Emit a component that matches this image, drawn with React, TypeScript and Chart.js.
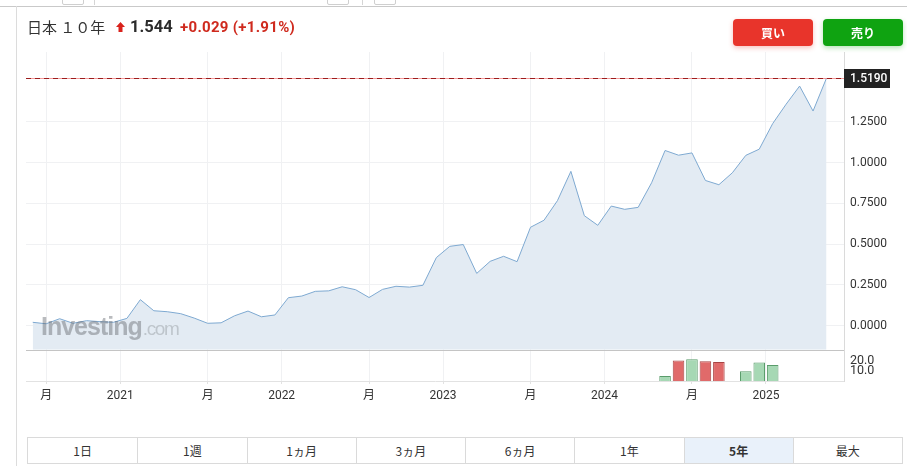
import React, { useEffect, useRef } from "react";
import { Chart, registerables } from "chart.js";

Chart.register(...registerables);

// ---- data ----
const months = [
  "2020-06", "2020-07", "2020-08", "2020-09", "2020-10", "2020-11", "2020-12",
  "2021-01", "2021-02", "2021-03", "2021-04", "2021-05", "2021-06", "2021-07",
  "2021-08", "2021-09", "2021-10", "2021-11", "2021-12", "2022-01", "2022-02",
  "2022-03", "2022-04", "2022-05", "2022-06", "2022-07", "2022-08", "2022-09",
  "2022-10", "2022-11", "2022-12", "2023-01", "2023-02", "2023-03", "2023-04",
  "2023-05", "2023-06", "2023-07", "2023-08", "2023-09", "2023-10", "2023-11",
  "2023-12", "2024-01", "2024-02", "2024-03", "2024-04", "2024-05", "2024-06",
  "2024-07", "2024-08", "2024-09", "2024-10", "2024-11", "2024-12", "2025-01",
  "2025-02", "2025-03", "2025-04", "2025-05",
];

const yields = [
  0.021, 0.012, 0.043, 0.015, 0.031, 0.025, 0.021, 0.045, 0.16, 0.092,
  0.086, 0.074, 0.047, 0.015, 0.018, 0.061, 0.09, 0.055, 0.066, 0.172,
  0.182, 0.211, 0.214, 0.239, 0.221, 0.173, 0.223, 0.242, 0.237, 0.248,
  0.418, 0.487, 0.498, 0.321, 0.395, 0.426, 0.393, 0.604, 0.647, 0.767,
  0.947, 0.675, 0.616, 0.734, 0.714, 0.726, 0.877, 1.075, 1.046, 1.06,
  0.891, 0.865, 0.938, 1.045, 1.083, 1.24, 1.359, 1.47, 1.317, 1.519,
];

const volume: (number | null)[] = [
  null, null, null, null, null, null, null, null, null, null,
  null, null, null, null, null, null, null, null, null, null,
  null, null, null, null, null, null, null, null, null, null,
  null, null, null, null, null, null, null, null, null, null,
  null, null, null, null, null, null, null, 5, 20.7, 22,
  20, 19, null, 9.7, 18.7, 16, null, null, null, null,
];

const xTickIndex = [1, 6.5, 13, 18.5, 25, 30.5, 37, 42.5, 49, 54.5];
const xTickLabels = ["月", "2021", "月", "2022", "月", "2023", "月", "2024", "月", "2025"];
const yTicks = [0, 0.25, 0.5, 0.75, 1, 1.25];
const volTicks = [10, 20];
const lastPrice = 1.519;
const rangeButtons = ["1日", "1週", "1ヵ月", "3ヵ月", "6ヵ月", "1年", "5年", "最大"];
const activeRange = "5年";

const FONT = "Roboto, 'Noto Sans CJK JP', sans-serif";

const overlayPlugin = {
  id: "overlay",
  afterDraw(chart: any) {
    const { ctx, chartArea, scales } = chart;
    const y = scales.y;
    ctx.save();
    // separator between price and volume panes
    const sepY = Math.round(y.bottom) + 0.5;
    ctx.strokeStyle = "#c4c4c4";
    ctx.lineWidth = 1;
    ctx.beginPath();
    ctx.moveTo(chartArea.left, sepY);
    ctx.lineTo(chartArea.right, sepY);
    ctx.stroke();
    // last price dashed line
    const py = Math.round(y.getPixelForValue(lastPrice)) + 0.5;
    ctx.strokeStyle = "rgba(240,120,120,0.75)";
    ctx.beginPath();
    ctx.moveTo(chartArea.left, py);
    ctx.lineTo(chartArea.right, py);
    ctx.stroke();
    ctx.setLineDash([5, 4]);
    ctx.strokeStyle = "#9c1d1d";
    ctx.beginPath();
    ctx.moveTo(chartArea.left, py);
    ctx.lineTo(chartArea.right, py);
    ctx.stroke();
    ctx.setLineDash([]);
    // last price label
    ctx.fillStyle = "#222222";
    ctx.fillRect(chartArea.right, py - 9.5, 46, 19);
    ctx.fillStyle = "#ffffff";
    ctx.font = "500 12px " + FONT;
    ctx.textBaseline = "middle";
    ctx.textAlign = "left";
    ctx.fillText(lastPrice.toFixed(4), chartArea.right + 6, py + 0.5);
    ctx.restore();
  },
};

function PriceChart() {
  const ref = useRef<HTMLCanvasElement | null>(null);
  useEffect(() => {
    if (!ref.current) return;
    const linePoints = yields.map((v, i) => ({ x: i, y: v }));
    const barPoints: { x: number; y: number }[] = [];
    const barFill: string[] = [];
    const barBorder: string[] = [];
    volume.forEach((v, i) => {
      if (v === null) return;
      barPoints.push({ x: i, y: v });
      const up = i === 0 || yields[i] >= yields[i - 1];
      barFill.push(up ? "#a6d8b4" : "#e06a6a");
      barBorder.push(up ? "#5a9c6b" : "#a84444");
    });
    const chart = new Chart(ref.current, {
      type: "line",
      data: {
        datasets: [
          {
            type: "line",
            label: "日本 １０年",
            data: linePoints,
            yAxisID: "y",
            borderColor: "#7ea9d1",
            borderWidth: 1,
            backgroundColor: "#e3ebf3",
            fill: "start",
            pointRadius: 0,
            tension: 0,
            order: 1,
          },
          {
            type: "bar",
            label: "volume",
            data: barPoints,
            yAxisID: "yv",
            backgroundColor: barFill,
            borderColor: barBorder,
            borderWidth: 1,
            barPercentage: 0.86,
            categoryPercentage: 1,
            order: 2,
          },
        ] as any,
      },
      options: {
        responsive: false,
        animation: false,
        layout: { padding: { left: 26, top: 52, right: 0, bottom: 9 } },
        plugins: { legend: { display: false }, tooltip: { enabled: false } },
        scales: {
          x: {
            type: "linear",
            offset: false,
            min: -0.5,
            max: 60.3,
            bounds: "data",
            afterBuildTicks: (s: any) => {
              s.ticks = xTickIndex.map((v) => ({ value: v }));
            },
            afterFit: (s: any) => {
              s.height = 30;
            },
            ticks: {
              autoSkip: false,
              maxRotation: 0,
              padding: 5,
              color: "#333333",
              font: { size: 12, family: FONT },
              callback: (_v: any, i: number) => xTickLabels[i],
            },
            grid: { offset: false, color: "#f0f1f3", drawTicks: true, tickLength: 3, tickColor: "#e2e2e2" },
            border: { color: "#e2e2e2" },
          },
          y: {
            type: "linear",
            position: "right",
            stack: "pane",
            stackWeight: 297.7,
            weight: 1,
            min: -0.147,
            max: 1.679,
            bounds: "data",
            afterBuildTicks: (s: any) => {
              s.ticks = yTicks.map((v) => ({ value: v }));
            },
            afterFit: (s: any) => {
              s.width = 63;
            },
            ticks: {
              autoSkip: false,
              padding: 6,
              color: "#333333",
              font: { size: 12, family: FONT },
              callback: (v: any) => Number(v).toFixed(4),
            },
            grid: { color: "#f0f1f3", drawTicks: false },
            border: { color: "#dadada" },
          },
          yv: {
            type: "linear",
            position: "right",
            stack: "pane",
            stackWeight: 31.3,
            weight: 2,
            min: 0,
            max: 31.5,
            bounds: "data",
            afterBuildTicks: (s: any) => {
              s.ticks = volTicks.map((v) => ({ value: v }));
            },
            afterFit: (s: any) => {
              s.width = 63;
            },
            ticks: {
              autoSkip: false,
              padding: 6,
              color: "#333333",
              font: { size: 12.5, family: FONT },
              callback: (v: any) => Number(v).toFixed(1),
            },
            grid: { display: false, drawTicks: false },
            border: { color: "#dadada" },
          },
        },
      } as any,
      plugins: [overlayPlugin],
    });
    return () => chart.destroy();
  }, []);
  return <canvas ref={ref} width={907} height={420} style={{ position: "absolute", left: 0, top: 0 }} />;
}

export default function App() {
  const cellW = 876 / rangeButtons.length;
  return (
    <div
      style={{
        position: "absolute",
        left: 0,
        top: 0,
        width: 907,
        height: 466,
        overflow: "hidden",
        background: "#ffffff",
        fontFamily: FONT,
        color: "#333",
      }}
    >
      {/* top remnants and frame */}
      <div style={{ position: "absolute", left: 0, top: 6, width: 907, height: 1, background: "#c9c9c9" }} />
      <div style={{ position: "absolute", left: 16, top: 6, width: 1, height: 460, background: "#dcdcdc" }} />
      <div style={{ position: "absolute", left: 62, top: -5, width: 20, height: 8, border: "1px solid #cfcfcf", borderRadius: 2 }} />
      <div style={{ position: "absolute", left: 94, top: 0, width: 1, height: 5, background: "#d5d5d5" }} />
      <div style={{ position: "absolute", left: 327, top: -5, width: 20, height: 8, border: "1px solid #cfcfcf", borderRadius: 2 }} />
      <div style={{ position: "absolute", left: 362, top: 0, width: 1, height: 5, background: "#d5d5d5" }} />
      <div style={{ position: "absolute", left: 374, top: -5, width: 20, height: 8, border: "1px solid #cfcfcf", borderRadius: 2 }} />

      <PriceChart />

      {/* watermark */}
      <div
        style={{
          position: "absolute",
          left: 41,
          top: 314,
          whiteSpace: "nowrap",
          fontFamily: "'Liberation Sans', Arial, sans-serif",
          lineHeight: "25px",
          pointerEvents: "none",
        }}
      >
        <span style={{ fontSize: 25, fontWeight: 700, letterSpacing: "-1px", color: "rgba(100,105,110,0.45)" }}>Investing</span>
        <span style={{ fontSize: 19, letterSpacing: "-1.4px", marginLeft: 1, color: "rgba(115,120,125,0.33)" }}>.com</span>
      </div>

      {/* header */}
      <div style={{ position: "absolute", left: 27, top: 16, lineHeight: "22px", fontSize: 15, fontFamily: "'Noto Sans CJK JP', sans-serif", color: "#333", whiteSpace: "nowrap" }}>
        日本 １０年
      </div>
      <svg style={{ position: "absolute", left: 116, top: 22 }} width={9} height={10} viewBox="0 0 9 10">
        <polygon points="4.5,0 9,5 6.5,5 6.5,10 2.5,10 2.5,5 0,5" fill="#d9221c" />
      </svg>
      <div style={{ position: "absolute", left: 130, top: 16, lineHeight: "22px", fontSize: 16.5, fontWeight: 700, color: "#2b2b2b", whiteSpace: "nowrap" }}>
        1.544
      </div>
      <div style={{ position: "absolute", left: 180, top: 16, lineHeight: "22px", fontSize: 15, letterSpacing: "0.3px", fontWeight: 700, color: "#cf2a1e", whiteSpace: "nowrap" }}>
        +0.029 (+1.91%)
      </div>

      {/* buy / sell buttons */}
      <div
        style={{
          position: "absolute", left: 733, top: 19, width: 80, height: 27, borderRadius: 4,
          background: "#e8342b", color: "#fff", fontWeight: 700, fontSize: 12, lineHeight: "27px",
          textAlign: "center", boxShadow: "0 2px 5px rgba(232,52,43,0.3)",
          fontFamily: "'Noto Sans CJK JP', sans-serif",
        }}
      >
        買い
      </div>
      <div
        style={{
          position: "absolute", left: 823, top: 19, width: 80, height: 27, borderRadius: 4,
          background: "#0fa311", color: "#fff", fontWeight: 700, fontSize: 12, lineHeight: "27px",
          textAlign: "center", boxShadow: "0 2px 5px rgba(15,163,17,0.3)",
          fontFamily: "'Noto Sans CJK JP', sans-serif",
        }}
      >
        売り
      </div>

      {/* range selector */}
      <div style={{ position: "absolute", left: 27, top: 437, width: 876, height: 27, display: "flex", border: "1px solid #dadada", boxSizing: "border-box" }}>
        {rangeButtons.map((b, i) => (
          <div
            key={b}
            style={{
              width: cellW,
              height: "100%",
              borderLeft: i === 0 ? "none" : "1px solid #dadada",
              boxSizing: "border-box",
              background: b === activeRange ? "#e9f1fa" : "#fff",
              fontWeight: b === activeRange ? 700 : 400,
              fontSize: 12,
              lineHeight: "25px",
              textAlign: "center",
              color: "#333",
              fontFamily: "'Noto Sans CJK JP', sans-serif",
            }}
          >
            {b}
          </div>
        ))}
      </div>
    </div>
  );
}
